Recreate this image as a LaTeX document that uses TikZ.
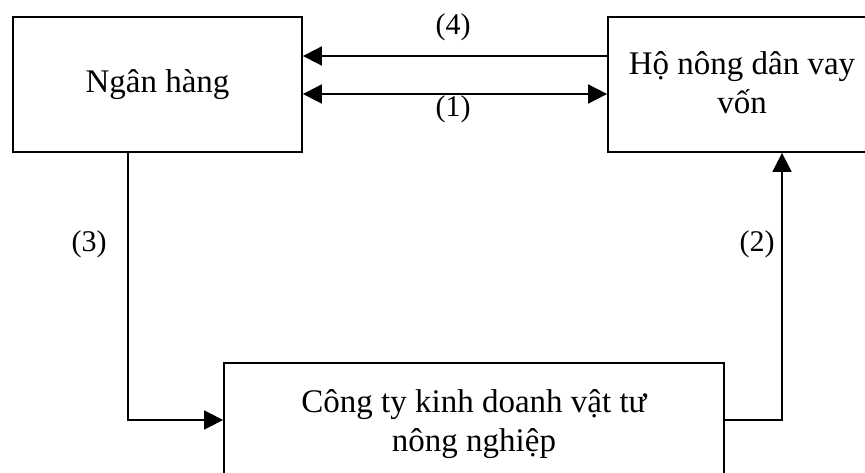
\documentclass[tikz,border=0pt]{standalone}
\usepackage{fontspec}
\setmainfont{Liberation Serif}
\usetikzlibrary{arrows.meta}
\begin{document}
\begin{tikzpicture}[x=1pt,y=-1pt,
  box/.style={draw,line width=1.8pt,rectangle,inner sep=0pt,align=center,
    font=\fontsize{33}{39}\selectfont},
  lbl/.style={font=\fontsize{30}{32}\selectfont,inner sep=0pt},
  conn/.style={line width=1.8pt,-{Triangle[length=19pt,width=19pt]}}]
\clip (0,0) rectangle (865,473);
\fill[white] (0,0) rectangle (865,473);
\node[box,minimum width=289pt,minimum height=135pt] (bank) at (157.5,84.5) {\raisebox{4pt}{Ngân hàng}};
\node[box,minimum width=268pt,minimum height=135pt] (farmer) at (742,84.5) {\raisebox{3pt}{Hộ nông dân vay}\\\raisebox{3pt}{vốn}};
\node[box,minimum width=500pt,minimum height=122pt] (company) at (474,424) {Công ty kinh doanh vật tư\\nông nghiệp};
\coordinate (c3) at (128,420);
\coordinate (c2) at (782,420);
\draw[conn] (farmer.west |- 0,56) -- (bank.east |- 0,56);
\draw[conn,{Triangle[length=19pt,width=19pt]}-{Triangle[length=19pt,width=19pt]}] (bank.east |- 0,94) -- (farmer.west |- 0,94);
\draw[conn] (bank.south -| c3) -- (c3) -- (company.west |- c3);
\draw[conn] (company.east |- c2) -- (c2) -- (farmer.south -| c2);
\node[lbl] (l4) at (453,27) {(4)};
\node[lbl] (l1) at (453,109) {(1)};
\node[lbl] (l3) at (89,244) {(3)};
\node[lbl] (l2) at (757,244) {(2)};
\end{tikzpicture}
\end{document}
